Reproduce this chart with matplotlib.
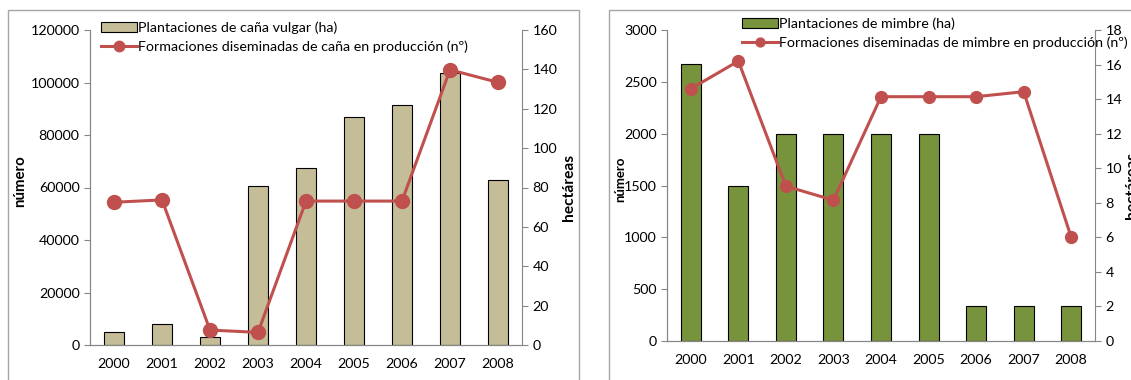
import matplotlib.pyplot as plt
from matplotlib.patches import Rectangle
from matplotlib.lines import Line2D

years = ["2000", "2001", "2002", "2003", "2004", "2005", "2006", "2007", "2008"]

# left panel: caña vulgar
cana_bars = [5100, 8100, 3000, 60500, 67400, 87000, 91400, 103600, 62900]
cana_line = [72.5, 73.7, 7.6, 6.4, 73.1, 73.1, 73.1, 139.8, 133.4]

# right panel: mimbre
mimbre_bars = [2670, 1500, 2000, 2000, 2000, 2000, 333, 333, 333]
mimbre_line = [14.6, 16.2, 8.96, 8.15, 14.14, 14.14, 14.14, 14.43, 6.0]

W, H = 1131, 380
plt.rcParams['font.family'] = ['Lato', 'DejaVu Sans']
plt.rcParams['font.size'] = 10.3

fig = plt.figure(figsize=(W / 100, H / 100), dpi=100)
gray = "#868686"
red = "#C0504D"


def px(x0, y0, x1, y1):
    return [x0 / W, 1 - y1 / H, (x1 - x0) / W, (y1 - y0) / H]


def panel(rect, bars, line, bar_color, ymax_l, step_l, ymax_r, step_r,
          lab_bar, lab_line, leg_xy, msize, lab_x, lab_fs):
    ax = fig.add_axes(rect)
    x = range(len(years))
    ax.bar(x, bars, width=0.42, color=bar_color, edgecolor="black", linewidth=0.8)
    ax.set_xlim(-0.5, len(years) - 0.5)
    ax.set_ylim(0, ymax_l)
    ax.set_yticks(range(0, ymax_l + 1, step_l))
    ax.set_xticks(list(x))
    ax.set_xticklabels(years)
    ax.set_ylabel("número", fontweight="bold", fontsize=lab_fs[0])
    ax.yaxis.set_label_coords(lab_x[0], 0.52)
    ax2 = ax.twinx()
    ax2.plot(x, line, color=red, linewidth=2.2, marker="o", markersize=msize)
    ax2.set_ylim(0, ymax_r)
    ax2.set_yticks(range(0, ymax_r + 1, step_r))
    ax2.set_ylabel("hectáreas", fontweight="bold", fontsize=lab_fs[1])
    ax2.yaxis.set_label_coords(lab_x[1], 0.5)
    for a in (ax, ax2):
        a.spines["top"].set_visible(False)
        for s in ("left", "right", "bottom"):
            a.spines[s].set_color(gray)
        a.tick_params(axis="y", colors=gray, labelcolor="black", length=4, direction="out")
        a.tick_params(axis="x", length=0, pad=9)
    ax.spines["right"].set_visible(False)
    handles = [Rectangle((0, 0), 1, 1, facecolor=bar_color, edgecolor="black", linewidth=0.8),
               Line2D([], [], color=red, linewidth=2.2, marker="o", markersize=msize * 0.75)]
    ax2.legend(handles, [lab_bar, lab_line], loc="upper left",
               bbox_to_anchor=(leg_xy[0] / W, 1 - leg_xy[1] / H),
               bbox_transform=fig.transFigure, frameon=False, borderpad=0,
               handlelength=2.5, handletextpad=0.1, labelspacing=0.5, borderaxespad=0)
    return ax


panel(px(90, 30, 522, 345), cana_bars, cana_line, "#C4BD97", 120000, 20000, 160, 20,
      "Plantaciones de caña vulgar (ha)",
      "Formaciones diseminadas de caña en producción (nº)", (101, 21), 10,
      ((27 - 90) / 432, (562 - 90) / 432), (10.8, 11.2))
panel(px(667, 30, 1095, 341), mimbre_bars, mimbre_line, "#77933C", 3000, 500, 18, 2,
      "Plantaciones de mimbre (ha)",
      "Formaciones diseminadas de mimbre en producción (nº)", (742, 17), 8.5,
      ((626 - 667) / 428, (1125 - 667) / 428), (9.5, 11.2))

# chart frames
fig.patches.append(Rectangle((8 / W, -0.1), 571 / W, 1.1 - 10 / H, transform=fig.transFigure,
                             fill=False, edgecolor="#A6A6A6", linewidth=1))
fig.patches.append(Rectangle((609 / W, -0.1), 0.5, 1.1 - 10 / H, transform=fig.transFigure,
                             fill=False, edgecolor="#A6A6A6", linewidth=1))

fig.savefig("out.png", dpi=100)
